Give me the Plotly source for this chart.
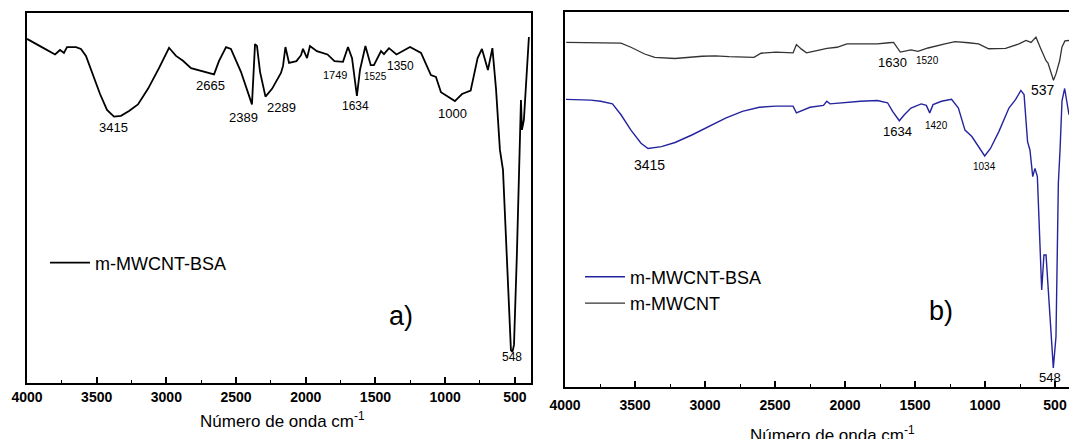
import plotly.graph_objects as go

W, H = 1069, 439

# ---------------- data ----------------
# Panel a) m-MWCNT-BSA : wavenumber (cm-1) and transmittance (arb. %)
wn_a = [4000, 3946, 3871, 3799, 3763, 3735, 3713, 3648, 3613, 3577, 3527, 3476, 3426, 3376,
        3326, 3268, 3204, 3132, 3053, 2981, 2931, 2881, 2823, 2737, 2658, 2623, 2572, 2537,
        2465, 2386, 2364, 2350, 2328, 2289, 2242, 2178, 2163, 2146, 2120, 2067, 2034, 2020,
        1991, 1970, 1920, 1844, 1794, 1733, 1697, 1668, 1633, 1611, 1572, 1534, 1511, 1460,
        1439, 1403, 1349, 1252, 1173, 1102, 1066, 1030, 930, 879, 817, 767, 736, 693, 661,
        635, 607, 585, 556, 528, 517, 506, 485, 463, 456, 449, 435, 399]
t_a = [93.0, 91.8, 90.3, 88.8, 90.0, 89.2, 90.8, 90.8, 90.3, 88.4, 83.2, 78.1, 73.8, 72.0,
       72.2, 73.5, 75.3, 79.5, 85.1, 90.6, 88.4, 87.1, 85.1, 84.3, 83.4, 87.0, 90.8, 90.3,
       84.1, 75.3, 91.6, 91.1, 84.1, 77.4, 79.5, 83.8, 85.7, 90.8, 86.5, 87.0, 88.6, 90.3,
       87.8, 91.1, 89.7, 88.8, 87.0, 86.8, 90.8, 87.8, 77.6, 84.6, 91.1, 85.9, 85.9, 89.7,
       88.9, 90.5, 88.8, 90.8, 89.2, 83.2, 82.7, 78.6, 76.2, 78.1, 79.0, 87.8, 90.3, 84.6, 90.5,
       79.5, 63.0, 57.6, 33.2, 8.9, 8.4, 10.3, 35.1, 63.0, 76.5, 68.4, 71.1, 93.5]

# Panel b) m-MWCNT-BSA (blue)
wn_b_bsa = [3993, 3817, 3745, 3661, 3600, 3529, 3457, 3407, 3311, 3214, 3094, 2974, 2853,
            2733, 2612, 2493, 2371, 2347, 2323, 2250, 2154, 2130, 2107, 2010, 1889, 1769,
            1696, 1660, 1612, 1576, 1529, 1456, 1419, 1395, 1371, 1311, 1239, 1190, 1143,
            1094, 1046, 1002, 961, 901, 829, 781, 744, 721, 696, 679, 659, 643, 626, 607,
            595, 579, 564, 548, 531, 512, 493, 476, 464, 450, 431, 421, 400]
t_b_bsa = [76.7, 76.5, 76.2, 75.5, 72.6, 68.5, 65.0, 63.6, 64.1, 65.2, 67.2, 69.5, 71.7,
           73.5, 74.6, 74.9, 74.9, 73.1, 73.5, 74.6, 75.1, 76.2, 75.5, 75.9, 76.2, 76.4,
           75.8, 73.5, 71.0, 72.6, 74.4, 75.5, 75.1, 73.1, 75.3, 76.2, 76.7, 74.4, 68.5,
           66.8, 64.1, 61.6, 63.6, 68.1, 74.4, 76.7, 79.1, 78.0, 65.4, 63.2, 56.1, 58.3,
           56.1, 38.4, 25.9, 35.2, 35.2, 25.9, 15.2, 5.1, 13.4, 54.4, 63.2, 76.3, 79.6,
           77.1, 72.6]

# Panel b) m-MWCNT (black)
wn_b_mw = [3991, 3600, 3529, 3431, 3359, 3214, 3021, 2926, 2829, 2650, 2600, 2493, 2371,
           2347, 2311, 2275, 2202, 2129, 2057, 1986, 1914, 1769, 1686, 1653, 1605, 1564,
           1529, 1479, 1407, 1286, 1214, 1118, 1046, 974, 853, 757, 707, 671, 636, 600,
           564, 550, 511, 493, 467, 450, 429, 400]
t_b_mw = [91.9, 91.7, 90.6, 88.8, 87.9, 87.6, 88.2, 88.3, 88.1, 87.9, 89.0, 89.3, 89.1,
          91.3, 90.1, 89.1, 89.7, 90.3, 90.6, 91.5, 91.5, 91.5, 91.8, 91.9, 89.3, 89.7,
          89.9, 89.5, 90.4, 91.5, 92.1, 91.8, 91.5, 90.2, 90.3, 91.5, 92.4, 91.9, 93.3,
          90.1, 87.0, 86.4, 81.8, 83.5, 87.0, 90.7, 92.3, 92.4]

tick_vals = [4000, 3500, 3000, 2500, 2000, 1500, 1000, 500]
tick_text = [str(v) for v in tick_vals]

x_title = "Número de onda cm<sup>-1</sup>"
peaks_a = ["3415", "2665", "2389", "2289", "1749", "1525", "1350", "1634", "1000", "548"]
peaks_b = ["3415", "1634", "1420", "1034", "548", "537", "1630", "1520"]

# ---------------- figure ----------------
FONT = "Liberation Sans, Arial, sans-serif"

fig = go.Figure()
fig.add_trace(go.Scatter(x=wn_a, y=t_a, mode="lines", name="m-MWCNT-BSA",
                         line=dict(color="#000000", width=1.8),
                         xaxis="x", yaxis="y", legend="legend"))
fig.add_trace(go.Scatter(x=wn_b_bsa, y=t_b_bsa, mode="lines", name="m-MWCNT-BSA",
                         line=dict(color="#24249e", width=1.4),
                         xaxis="x2", yaxis="y2", legend="legend2"))
fig.add_trace(go.Scatter(x=wn_b_mw, y=t_b_mw, mode="lines", name="m-MWCNT",
                         line=dict(color="#333333", width=1.3),
                         xaxis="x2", yaxis="y2", legend="legend2"))

def px(x, y):
    return x / W, 1 - y / H

axis_common = dict(
    tickmode="array", tickvals=tick_vals, ticktext=tick_text,
    ticks="inside", ticklen=6, tickwidth=1.5, tickcolor="#000",
    minor=dict(dtick=250, ticks="inside", ticklen=3, tickwidth=1.3, tickcolor="#000",
               showgrid=False),
    showline=True, linecolor="#000", linewidth=2, mirror=True,
    showgrid=False, zeroline=False, automargin=False,
    tickfont=dict(family=FONT, size=14, color="#000", weight="bold"),
)

xa = dict(axis_common)
xa.update(domain=[27 / W, 531 / W], range=[4000, 384], anchor="y")
xb = dict(axis_common)
xb.update(domain=[565 / W, 1.0], range=[4000, 400], anchor="y2", ticklabelstandoff=4)

ya = dict(domain=[1 - 383 / H, 1 - 13 / H], range=[0, 100], showticklabels=False,
          ticks="", showline=True, linecolor="#000", linewidth=2, mirror=True,
          showgrid=False, zeroline=False, anchor="x", automargin=False)
yb = dict(domain=[1 - 387 / H, 1 - 12 / H], range=[0, 100], showticklabels=False,
          ticks="", showline=True, linecolor="#000", linewidth=2, mirror=False,
          showgrid=False, zeroline=False, anchor="x2", automargin=False)

ann = []
def label(text, x, y, size):
    ax, ay = px(x, y)
    ann.append(dict(text=text, x=ax, y=ay, xref="paper", yref="paper",
                    xanchor="center", yanchor="middle", showarrow=False,
                    font=dict(family=FONT, size=size, color="#000")))

pos_a = [(113, 127, 13), (210, 85.5, 13), (243, 117, 13), (281, 108, 13), (335, 74.5, 11),
         (375, 76, 10), (400, 65.5, 12), (355, 105.5, 12), (452, 113, 13), (512, 357, 12)]
for t, (x, y, s) in zip(peaks_a, pos_a):
    label(t, x, y, s)
pos_b = [(649.6, 164.6, 14), (897, 131.6, 13), (936.4, 125.5, 10), (984.7, 166, 10),
         (1050, 377, 13), (1043, 90, 14), (892.6, 63, 13), (927, 61, 10)]
for t, (x, y, s) in zip(peaks_b, pos_b):
    label(t, x, y, s)
label("a)", 401, 316, 27)
label("b)", 941, 311, 27)
# x-axis titles
label(x_title, 282, 420, 17)
label(x_title, 832, 434, 17)

fig.update_layout(
    width=W, height=H,
    margin=dict(l=0, r=0, t=0, b=0, autoexpand=False),
    paper_bgcolor="#fff", plot_bgcolor="#fff",
    xaxis=xa, yaxis=ya, xaxis2=xb, yaxis2=yb,
    annotations=ann,
    legend=dict(x=45 / W, y=1 - 263 / H, xanchor="left", yanchor="middle",
                bgcolor="rgba(0,0,0,0)", borderwidth=0, itemwidth=40,
                font=dict(family=FONT, size=18, color="#000")),
    legend2=dict(x=580 / W, y=1 - 290 / H, xanchor="left", yanchor="middle",
                 bgcolor="rgba(0,0,0,0)", borderwidth=0, itemwidth=40,
                 traceorder="normal", tracegroupgap=0,
                 font=dict(family=FONT, size=18, color="#000")),
    showlegend=True,
)

fig.write_html("out.html")
